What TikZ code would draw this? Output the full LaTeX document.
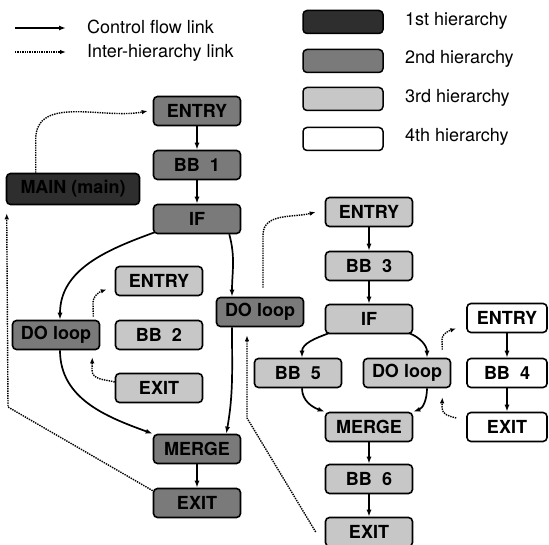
\documentclass[tikz,border=0pt]{standalone}
\usepackage{fontspec}
\setmainfont{TeX Gyre Heros}
\usetikzlibrary{arrows.meta,calc}
\begin{document}
\begin{tikzpicture}[x=1pt,y=1pt,
  box/.style={draw=black, line width=1.6pt, rounded corners=4pt, minimum width=87pt, minimum height=29pt, inner sep=0pt, font=\fontsize{18}{20}\selectfont\bfseries},
  hA/.style={box, fill=black!82},
  hB/.style={box, fill=black!52},
  hC/.style={box, fill=black!22},
  hD/.style={box, fill=white, minimum width=80pt},
  flow/.style={line width=1.7pt, -{Latex[length=7pt,width=5pt]}},
  inter/.style={line width=1.4pt, dash pattern=on 1.4pt off 1pt, -{Latex[length=6pt,width=4.5pt]}},
  lgtext/.style={anchor=base west, font=\fontsize{18}{21}\selectfont, inner sep=0pt},
  lgbox/.style={draw, line width=1.5pt, rounded corners=4pt, minimum width=80pt, minimum height=23pt, inner sep=0pt}
]
\useasboundingbox (0,0) rectangle (549,-545);

% legend
\coordinate (la1) at (15,-28); \coordinate (la2) at (66,-28);
\coordinate (lb1) at (15,-52); \coordinate (lb2) at (66,-52);
\draw[flow] (la1) -- (la2);
\draw[inter] (lb1) -- (lb2);
\node[lgtext] (lt1) at (87,-34) {Control flow link};
\node[lgtext] (lt2) at (87,-58) {Inter-hierarchy link};

\node[lgbox, fill=black!82] (lg1) at (343,-22) {};
\node[lgbox, fill=black!52] (lg2) at (343,-61) {};
\node[lgbox, fill=black!22] (lg3) at (343,-99) {};
\node[lgbox, fill=white]    (lg4) at (343,-139) {};
\node[lgtext] (lh1) at (405,-26) {1st hierarchy};
\node[lgtext] (lh2) at (405,-64) {2nd hierarchy};
\node[lgtext] (lh3) at (405,-103) {3rd hierarchy};
\node[lgtext] (lh4) at (405,-142) {4th hierarchy};

% 1st hierarchy
\node[hA, minimum width=133pt, minimum height=31pt] (main) at (73,-189) {MAIN (main)};

% 2nd hierarchy
\node[hB] (eL)  at (197,-111) {ENTRY};
\node[hB] (b1)  at (197,-165) {BB\ \ 1};
\node[hB] (ifL) at (197,-219) {IF};
\node[hB] (doL) at (56,-335)  {DO loop};
\node[hB] (doM) at (260,-312) {DO loop};
\node[hB] (mg)  at (197,-449) {MERGE};
\node[hB] (xL)  at (197,-503) {EXIT};

% 3rd hierarchy (left)
\node[hC] (e3)  at (159,-281) {ENTRY};
\node[hC] (bb2) at (159,-335) {BB\ \ 2};
\node[hC] (x3)  at (159,-388) {EXIT};

% 3rd hierarchy (right)
\node[hC] (eR)  at (369,-212) {ENTRY};
\node[hC] (bb3) at (369,-266) {BB\ \ 3};
\node[hC] (ifR) at (369,-319) {IF};
\node[hC] (bb5) at (298,-373) {BB\ \ 5};
\node[hC] (doR) at (407,-373) {DO loop};
\node[hC] (mgR) at (369,-427) {MERGE};
\node[hC] (bb6) at (369,-479) {BB\ \ 6};
\node[hC] (xR)  at (369,-532) {EXIT};

% 4th hierarchy
\node[hD] (e4)  at (507,-318) {ENTRY};
\node[hD] (bb4) at (507,-373) {BB\ \ 4};
\node[hD] (x4)  at (507,-427) {EXIT};

% control flow
\draw[flow] (eL) -- (b1);
\draw[flow] (b1) -- (ifL);
\draw[flow] ([xshift=2pt,yshift=2pt]ifL.south west) to[out=200,in=90] ([xshift=4pt]doL.north);
\draw[flow] ([xshift=-12pt]ifL.south east) to[out=-75,in=90] ([xshift=-28pt]doM.north);
\draw[flow] ([xshift=4pt]doL.south) to[out=-90,in=160] (mg.north west);
\draw[flow] ([xshift=-28pt]doM.south) to[out=-90,in=80] ([xshift=-15pt]mg.north east);
\draw[flow] (mg) -- (xL);

\draw[flow] (eR) -- (bb3);
\draw[flow] (bb3) -- (ifR);
\draw[flow] ([xshift=4pt,yshift=1pt]ifR.south west) to[out=200,in=90] ([xshift=4pt]bb5.north);
\draw[flow] ([xshift=-4pt,yshift=1pt]ifR.south east) to[out=-20,in=90] ([xshift=20pt]doR.north);
\draw[flow] ([xshift=4pt]bb5.south) to[out=-90,in=160] (mgR.north west);
\draw[flow] ([xshift=20pt]doR.south) to[out=-90,in=20] (mgR.north east);
\draw[flow] (mgR) -- (bb6);
\draw[flow] (bb6) -- (xR);

\draw[flow] (e4) -- (bb4);
\draw[flow] (bb4) -- (x4);

% inter-hierarchy links
\coordinate (k1) at (8,-407);
\coordinate (k2) at (263,-235);
\coordinate (k3) at (247,-418);
\coordinate (k4) at (93,-303);
\coordinate (k5) at (92,-370);
\coordinate (k6) at (442,-340);
\coordinate (k7) at (442,-408);

\draw[inter] ([xshift=30pt]main.north west) -- ++(0,33) to[out=90,in=191] ([xshift=-5pt]eL.west);
\draw[inter] ([yshift=-3pt]xL.north west) -- (k1) -- ([xshift=1pt,yshift=-8pt]main.south west);
\draw[inter] ([xshift=3pt,yshift=9pt]doM.north) -- (k2) to[out=90,in=195] ([xshift=-9pt]eR.west);
\draw[inter] ([xshift=-9pt]xR.west) -- (k3) -- ([xshift=-13pt,yshift=-8pt]doM.south);
\draw[inter] ([xshift=-7pt,yshift=3pt]doL.north east) -- (k4) to[out=90,in=200] ([xshift=-8pt,yshift=7pt]e3.south west);
\draw[inter] ([yshift=6pt]x3.west) to[out=165,in=-90] (k5) -- ([xshift=-8pt,yshift=-7pt]doL.south east);
\draw[inter] ([xshift=-9pt,yshift=8pt]doR.north east) -- (k6) to[out=90,in=200] ([xshift=-10pt,yshift=5pt]e4.south west);
\draw[inter] ([xshift=-10pt,yshift=9pt]x4.west) to[out=165,in=-90] (k7) -- ([xshift=-9pt,yshift=-9pt]doR.south east);
\end{tikzpicture}
\end{document}
